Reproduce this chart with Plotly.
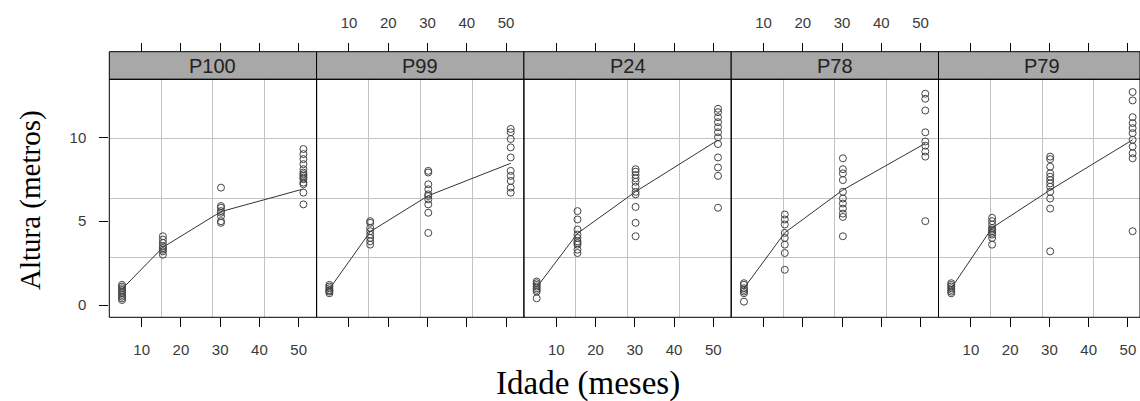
import plotly.graph_objects as go

# Ages (months) at which the trees were measured
AGES = [5.0, 15.4, 30.2, 51.2]

PANELS = ["P100", "P99", "P24", "P78", "P79"]

# Heights (m) for each panel, one list per age
P100 = [
    [0.3, 0.4, 0.5, 0.6, 0.7, 0.8, 0.9, 1.0, 1.1, 1.2],
    [4.1, 3.9, 3.7, 3.5, 3.4, 3.3, 3.2, 3.0],
    [7.0, 5.9, 5.8, 5.6, 5.5, 5.3, 5.0, 4.9],
    [9.3, 9.0, 8.7, 8.4, 8.1, 7.9, 7.8, 7.7, 7.6, 7.5, 7.3, 7.2, 6.7, 6.0],
]
P99 = [
    [1.2, 1.1, 1.0, 0.9, 0.85, 0.8, 0.7],
    [5.0, 4.9, 4.6, 4.4, 4.2, 4.0, 3.8, 3.6],
    [8.0, 7.9, 7.2, 6.9, 6.6, 6.5, 6.3, 6.0, 5.5, 4.3],
    [10.5, 10.3, 9.9, 9.4, 8.8, 8.0, 7.7, 7.4, 7.0, 6.7],
]
P24 = [
    [1.4, 1.3, 1.2, 1.1, 1.0, 0.9, 0.8, 0.4],
    [5.6, 5.1, 4.5, 4.2, 4.0, 3.8, 3.7, 3.6, 3.3, 3.1],
    [8.1, 7.95, 7.75, 7.55, 7.35, 7.05, 6.75, 6.6, 5.85, 4.9, 4.1],
    [11.7, 11.5, 11.2, 10.9, 10.6, 10.3, 10.0, 9.6, 8.8, 8.2, 7.7, 5.8],
]
P78 = [
    [1.3, 1.2, 1.0, 0.9, 0.8, 0.7, 0.2],
    [5.4, 5.1, 4.8, 4.3, 4.0, 3.6, 3.1, 2.1],
    [8.75, 8.1, 7.85, 7.45, 6.75, 6.35, 6.05, 5.75, 5.45, 5.25, 4.1],
    [12.6, 12.3, 11.6, 10.3, 9.75, 9.5, 9.15, 8.85, 5.0],
]
P79 = [
    [1.3, 1.2, 1.1, 1.0, 0.9, 0.8, 0.7],
    [5.2, 5.0, 4.8, 4.6, 4.5, 4.4, 4.3, 4.2, 4.0, 3.6],
    [8.85, 8.7, 8.25, 7.85, 7.65, 7.45, 7.25, 7.05, 6.75, 6.35, 5.75, 3.2],
    [12.7, 12.2, 11.2, 10.85, 10.55, 10.25, 9.85, 9.45, 9.05, 8.75, 4.4],
]

# Average height line per panel
MEAN_P100 = [0.95, 3.44, 5.57, 6.92]
MEAN_P99 = [0.95, 4.37, 6.52, 8.45]
MEAN_P24 = [1.05, 4.27, 6.76, 9.84]
MEAN_P78 = [1.0, 4.31, 6.86, 9.64]
MEAN_P79 = [1.0, 4.6, 6.86, 9.85]

X_TICKS = [10, 20, 30, 40, 50]
Y_TICKS = [0, 5, 10]

HEIGHTS = [P100, P99, P24, P78, P79]
MEANS = [MEAN_P100, MEAN_P99, MEAN_P24, MEAN_P78, MEAN_P79]

# ---- layout geometry (pixels) ----
W, H = 1140, 401
PANEL_LEFT = [109.3, 316.6, 523.9, 731.2, 938.5]
PANEL_W = 207.3
PANEL_TOP, PANEL_BOTTOM = 79.3, 317.3
STRIP_TOP = 51.7
X_RANGE = [1.75, 54.56]
Y_RANGE = [-0.733, 13.46]
PX_PER_X = PANEL_W / (X_RANGE[1] - X_RANGE[0])


def fx(p):
    return p / W


def fy(p):
    return 1 - p / H


x_grid = [X_RANGE[0] + (X_RANGE[1] - X_RANGE[0]) * k / 4 for k in (1, 2, 3)]
y_grid = [Y_RANGE[0] + (Y_RANGE[1] - Y_RANGE[0]) * k / 4 for k in (1, 2, 3)]

TICK_FONT = dict(family="Liberation Sans, Arial, sans-serif", size=15, color="#3a3a3a")
GRID = "#c2c2c2"
PT_COLOR = "#454545"

fig = go.Figure()
shapes = []
annotations = []

for i, name in enumerate(PANELS):
    n = i + 1
    xa = "x" if n == 1 else f"x{n}"
    left = PANEL_LEFT[i]
    right = min(left + PANEL_W, W)
    rng = [X_RANGE[0], X_RANGE[0] + (right - left) / PX_PER_X]

    xs, ys = [], []
    for age, vals in zip(AGES, HEIGHTS[i]):
        xs += [age] * len(vals)
        ys += vals

    fig.add_trace(go.Scatter(
        x=AGES, y=MEANS[i], mode="lines", xaxis=xa, yaxis="y",
        line=dict(color="#333333", width=1), showlegend=False, hoverinfo="skip"))
    fig.add_trace(go.Scatter(
        x=xs, y=ys, mode="markers", xaxis=xa, yaxis="y",
        marker=dict(symbol="circle-open", size=7, color=PT_COLOR,
                    line=dict(width=1, color=PT_COLOR)),
        showlegend=False, hoverinfo="skip"))

    bottom_labels = i % 2 == 0
    ax = dict(
        domain=[fx(left), fx(right)], range=rng, anchor="y",
        tickmode="array", tickvals=X_TICKS, ticks="outside", ticklen=9,
        tickwidth=1, tickcolor="black", showticklabels=bottom_labels,
        tickfont=TICK_FONT, ticklabelstandoff=10,
        showgrid=False, zeroline=False, showline=False,
        minor=dict(tickmode="array", tickvals=x_grid, showgrid=True,
                   gridcolor=GRID, gridwidth=1, ticks=""),
    )
    fig.update_layout({("xaxis" if n == 1 else f"xaxis{n}"): ax})

    # top axis above the strip
    tn = n + 5
    fig.add_trace(go.Scatter(x=[None], y=[None], xaxis=f"x{tn}", yaxis="y",
                             showlegend=False, hoverinfo="skip"))
    top = dict(
        overlaying=xa, side="top", anchor="free", position=fy(STRIP_TOP),
        range=rng, tickmode="array", tickvals=X_TICKS, ticks="outside",
        ticklen=9, tickwidth=1, tickcolor="black",
        showticklabels=not bottom_labels, tickfont=TICK_FONT,
        ticklabelstandoff=9, showgrid=False, zeroline=False, showline=False,
    )
    fig.update_layout({f"xaxis{tn}": top})

    # strip and panel frame
    shapes.append(dict(type="rect", xref="paper", yref="paper",
                       x0=fx(left), x1=fx(right), y0=fy(PANEL_TOP), y1=fy(STRIP_TOP),
                       fillcolor="#a8a8a8", line=dict(color="black", width=1),
                       layer="above"))
    shapes.append(dict(type="rect", xref="paper", yref="paper",
                       x0=fx(left), x1=fx(right), y0=fy(PANEL_BOTTOM), y1=fy(PANEL_TOP),
                       line=dict(color="black", width=1), layer="above"))
    annotations.append(dict(text=name, xref="paper", yref="paper",
                            x=fx((left + left + PANEL_W) / 2), y=fy((STRIP_TOP + PANEL_TOP) / 2),
                            showarrow=False, xanchor="center", yanchor="middle",
                            font=dict(family="Liberation Sans, Arial, sans-serif",
                                      size=20, color="#222222")))

fig.update_layout(
    yaxis=dict(
        domain=[fy(PANEL_BOTTOM), fy(PANEL_TOP)], range=Y_RANGE, anchor="x",
        tickmode="array", tickvals=Y_TICKS, ticks="outside", ticklen=9,
        tickwidth=1, tickcolor="black", tickfont=TICK_FONT, ticklabelstandoff=10,
        showgrid=False, zeroline=False, showline=False,
        minor=dict(tickmode="array", tickvals=y_grid, showgrid=True,
                   gridcolor=GRID, gridwidth=1, ticks=""),
    ),
)

annotations.append(dict(text="Altura (metros)", xref="paper", yref="paper",
                        x=fx(30), y=fy(200), textangle=-90,
                        showarrow=False, xanchor="center", yanchor="middle",
                        font=dict(family="Liberation Serif, Times New Roman, serif",
                                  size=29, color="black")))
annotations.append(dict(text="Idade (meses)", xref="paper", yref="paper",
                        x=fx(588), y=fy(383), showarrow=False,
                        xanchor="center", yanchor="middle",
                        font=dict(family="Liberation Serif, Times New Roman, serif",
                                  size=33, color="black")))

fig.update_layout(
    width=W, height=H, margin=dict(l=0, r=0, t=0, b=0),
    paper_bgcolor="white", plot_bgcolor="white",
    shapes=shapes, annotations=annotations, showlegend=False,
)

fig.write_html("out.html", config={"displayModeBar": False})
